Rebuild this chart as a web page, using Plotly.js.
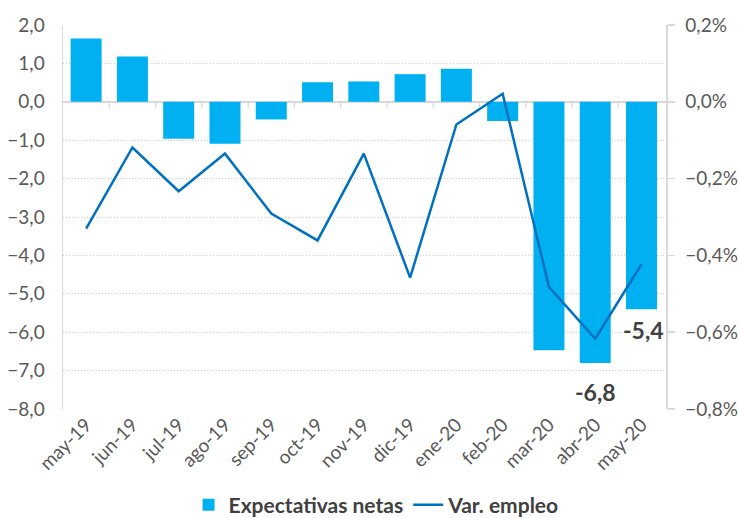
<!DOCTYPE html>
<html>
<head>
<meta charset="utf-8">
<script src="https://cdn.plot.ly/plotly-3.0.1.min.js"></script>
<style>html,body{margin:0;padding:0;background:#fff;}#chart{width:739px;height:518px;}</style>
</head>
<body>
<div id="chart"></div>
<script>
var categories = ["may-19","jun-19","jul-19","ago-19","sep-19","oct-19","nov-19","dic-19","ene-20","feb-20","mar-20","abr-20","may-20"];
var expectativasNetas = [1.65, 1.18, -0.96, -1.09, -0.46, 0.51, 0.53, 0.72, 0.86, -0.50, -6.47, -6.8, -5.4];
var varEmpleo = [-0.330, -0.119, -0.233, -0.135, -0.291, -0.361, -0.135, -0.458, -0.059, 0.021, -0.482, -0.617, -0.423];
var labelledIdx = [11, 12];
var labelShift = [-13, -5];

var fontFam = "Lato, 'Open Sans', sans-serif";

var bars = {
  type: 'bar', name: 'Expectativas netas', x: categories, y: expectativasNetas,
  marker: {color: '#00B0F0'}, yaxis: 'y'
};
var line = {
  type: 'scatter', mode: 'lines', name: 'Var. empleo', x: categories, y: varEmpleo,
  line: {color: '#0070C0', width: 2.5}, yaxis: 'y2'
};

var annotations = labelledIdx.map(function(i, k){
  return {
    x: categories[i], y: expectativasNetas[i], xref: 'x', yref: 'y',
    text: expectativasNetas[i].toFixed(1).replace('.', ','),
    showarrow: false, yanchor: 'top', yshift: labelShift[k],
    font: {family: fontFam, size: 23, color: '#404040', weight: 'bold'}
  };
});
annotations[1].xshift = 2;

var shapes = [];
for (var i = 0; i < categories.length - 1; i++) {
  shapes.push({type: 'line', xref: 'x', yref: 'y', x0: i + 0.5, x1: i + 0.5,
    ysizemode: 'pixel', yanchor: 0, y0: 0, y1: -6,
    line: {color: '#d9d9d9', width: 1.3}});
}

var layout = {
  width: 739, height: 518,
  margin: {l: 63, r: 73, t: 25, b: 109, autoexpand: false},
  paper_bgcolor: '#fff', plot_bgcolor: '#fff',
  separators: ',.',
  bargap: 0.33,
  showlegend: true,
  legend: {orientation: 'h', x: 0.52, xanchor: 'center', yref: 'container', y: 0.025, yanchor: 'middle',
    font: {family: fontFam, size: 21, color: '#404040', weight: 'bold'}, traceorder: 'normal'},
  font: {family: fontFam, color: '#595959', size: 18},
  xaxis: {type: 'category', tickangle: -45, showgrid: false, showline: false, ticks: '',
    automargin: false, tickfont: {family: fontFam, size: 19, color: '#595959'}},
  yaxis: {range: [-8, 2], dtick: 1, tickformat: '.1f', showgrid: true, gridcolor: '#cfcfcf',
    griddash: '1px,2px', gridwidth: 1, zeroline: true, zerolinecolor: '#d9d9d9', zerolinewidth: 1.5,
    showline: true, linecolor: '#d9d9d9', linewidth: 1.5, ticks: '', automargin: false,
    ticklabelstandoff: 13,
    tickfont: {family: fontFam, size: 19, color: '#595959'}},
  yaxis2: {range: [-0.8, 0.2], dtick: 0.2, tickformat: '.1f', ticksuffix: '%', overlaying: 'y',
    side: 'right', showgrid: false, zeroline: false, showline: true, linecolor: '#d9d9d9',
    linewidth: 1.5, ticks: 'outside', ticklen: 7, tickcolor: '#d9d9d9', tickwidth: 1.5,
    automargin: false, ticklabelstandoff: 7,
    tickfont: {family: fontFam, size: 19, color: '#595959'}},
  annotations: annotations,
  shapes: shapes
};

Plotly.newPlot('chart', [bars, line], layout, {displayModeBar: false, staticPlot: true});
</script>
</body>
</html>
